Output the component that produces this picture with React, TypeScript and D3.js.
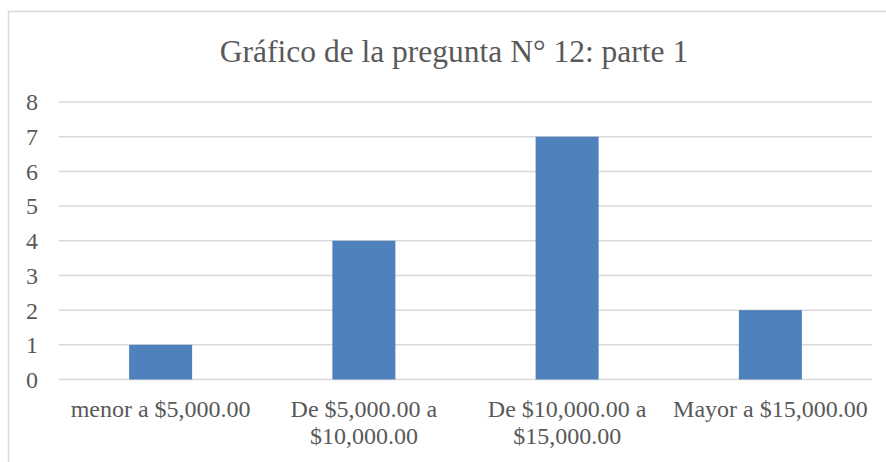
import * as d3 from 'd3';
import React, { useEffect, useRef } from 'react';

// chart data
const categories = [
  'menor a $5,000.00',
  'De $5,000.00 a $10,000.00',
  'De $10,000.00 a $15,000.00',
  'Mayor a $15,000.00',
];
const values = [1, 4, 7, 2];
// label lines as they wrap in the picture
const labelLines = [
  ['menor a $5,000.00'],
  ['De $5,000.00 a', '$10,000.00'],
  ['De $10,000.00 a', '$15,000.00'],
  ['Mayor a $15,000.00'],
];
const yTicks = [0, 1, 2, 3, 4, 5, 6, 7, 8];
const title = 'Gráfico de la pregunta N° 12: parte 1';

const App = () => {
  const svgRef = useRef<SVGSVGElement>(null);

  useEffect(() => {
    const svg = d3.select(svgRef.current);
    svg.selectAll('*').remove();
    const font = '"Liberation Serif", "Times New Roman", serif';
    const textColor = '#595959';
    const grid = '#d9d9d9';

    // chart frame (runs off the right and bottom of the picture)
    svg.append('rect')
      .attr('x', 8.5).attr('y', 11.5)
      .attr('width', 920).attr('height', 520)
      .attr('fill', '#fff')
      .attr('stroke', grid).attr('stroke-width', 1.5);

    // title
    svg.append('text')
      .attr('x', 454).attr('y', 62)
      .attr('text-anchor', 'middle')
      .attr('font-family', font).attr('font-size', 31.5)
      .attr('fill', textColor)
      .text(title);

    const x = d3.scaleBand()
      .domain(categories)
      .range([59, 872])
      .paddingInner(0.69)
      .paddingOuter(0.345);

    const y = d3.scaleLinear()
      .domain([0, 8])
      .range([379.5, 102]);

    // gridlines
    svg.append('g')
      .selectAll('line')
      .data(yTicks)
      .enter()
      .append('line')
        .attr('x1', 59).attr('x2', 872)
        .attr('y1', d => y(d)).attr('y2', d => y(d))
        .attr('stroke', grid).attr('stroke-width', 1.5);

    // y tick labels
    svg.append('g')
      .selectAll('text')
      .data(yTicks)
      .enter()
      .append('text')
        .attr('x', 38)
        .attr('y', d => y(d))
        .attr('dy', '0.35em')
        .attr('text-anchor', 'end')
        .attr('font-family', font).attr('font-size', 24)
        .attr('fill', textColor)
        .text(d => d);

    // bars
    svg.append('g')
      .selectAll('rect')
      .data(values)
      .enter()
      .append('rect')
        .attr('x', (d, i) => x(categories[i])!)
        .attr('width', x.bandwidth())
        .attr('y', d => y(d))
        .attr('height', d => y(0) - y(d))
        .attr('fill', '#4f81bd');

    // x category labels
    const lab = svg.append('g')
      .selectAll('text')
      .data(categories)
      .enter()
      .append('text')
        .attr('x', d => x(d)! + x.bandwidth() / 2)
        .attr('y', 416.5)
        .attr('text-anchor', 'middle')
        .attr('font-family', font).attr('font-size', 24)
        .attr('fill', textColor);
    lab.each(function (d, i) {
      const t = d3.select(this);
      labelLines[i].forEach((line, j) => {
        t.append('tspan')
          .attr('x', x(d)! + x.bandwidth() / 2)
          .attr('dy', j === 0 ? 0 : 27.6)
          .text(line);
      });
    });
  }, []);

  return (
    <svg
      ref={svgRef}
      width="886"
      height="462"
      style={{ position: 'absolute', left: 0, top: 0, background: '#fff' }}
    ></svg>
  );
};

export default App;
